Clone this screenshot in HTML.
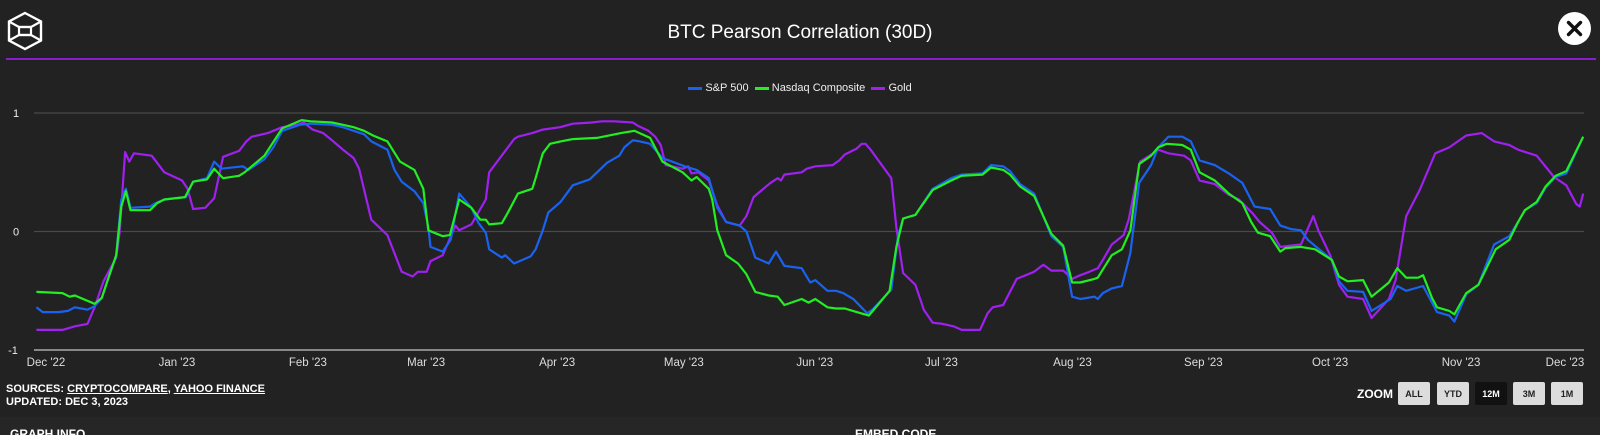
<!DOCTYPE html>
<html><head><meta charset="utf-8">
<style>
html,body{margin:0;padding:0;background:#222222;width:1600px;height:435px;overflow:hidden;font-family:"Liberation Sans",sans-serif;color:#fff}
#wrap{position:relative;width:1600px;height:435px}
.abs{position:absolute}
.btn{position:absolute;top:382px;width:32px;height:23px;background:#dcdcdc;color:#222;font:bold 9px "Liberation Sans Narrow","Liberation Sans",sans-serif;display:flex;align-items:center;justify-content:center;border-radius:2px}
.btn.on{background:#111;color:#fff}
.narrow{font-family:"Liberation Sans Narrow","Liberation Sans",sans-serif;font-weight:bold}
</style></head><body>
<div id="wrap">
<svg class="abs" style="left:6px;top:11px" width="38" height="40" viewBox="0 0 38 40">
<polygon points="19,2 35,10.5 35,29.5 19,38 3,29.5 3,10.5" fill="none" stroke="#fff" stroke-width="2.4"/>
<polyline points="3,10.5 13,16 25,16 35,10.5" fill="none" stroke="#fff" stroke-width="2.2"/>
<polyline points="3,29.5 13,24 25,24 35,29.5" fill="none" stroke="#fff" stroke-width="2.2"/>
<rect x="13" y="16" width="12" height="8" fill="none" stroke="#fff" stroke-width="2.2"/>
</svg>
<div class="abs" style="left:0;width:1600px;top:22px;text-align:center;font-size:19px">BTC Pearson Correlation (30D)</div>
<div class="abs" style="left:1558px;top:12px;width:33px;height:33px;border-radius:50%;background:#fff">
<svg width="33" height="33"><path d="M10.5,10.5 L22.5,22.5 M22.5,10.5 L10.5,22.5" stroke="#111" stroke-width="3.4" stroke-linecap="round"/></svg></div>
<div class="abs" style="left:6px;top:58px;width:1590px;height:2px;background:#8a1ccc"></div>

<div class="abs" style="left:0;width:1600px;top:82px;text-align:center;font-size:11px;color:#eee">
<span><span style="display:inline-block;width:14px;height:3px;background:#1a63f0;vertical-align:middle"></span> S&amp;P 500</span>&nbsp;
<span><span style="display:inline-block;width:14px;height:3px;background:#22ee22;vertical-align:middle"></span> Nasdaq Composite</span>&nbsp;
<span><span style="display:inline-block;width:14px;height:3px;background:#a020f0;vertical-align:middle"></span> Gold</span>
</div>

<svg id="chart" class="abs" style="left:0;top:0" width="1600" height="380"></svg>

<div class="abs narrow" style="left:6px;top:383px;font-size:11px;line-height:13px">SOURCES: <u>CRYPTOCOMPARE</u>, <u>YAHOO FINANCE</u><br><span>UPDATED: DEC 3, 2023</span></div>
<div class="abs narrow" style="left:1357px;top:387px;font-size:12px">ZOOM</div>
<div class="btn" style="left:1398px">ALL</div>
<div class="btn" style="left:1437px">YTD</div>
<div class="btn on" style="left:1475px">12M</div>
<div class="btn" style="left:1513px">3M</div>
<div class="btn" style="left:1551px">1M</div>
<div class="abs" style="left:0;top:417px;width:1600px;height:18px;background:#262626">
<div class="abs narrow" style="left:10px;top:10px;font-size:12px">GRAPH INFO</div>
<div class="abs narrow" style="left:855px;top:10px;font-size:12px">EMBED CODE</div>
</div>
</div>
<script>
// days since Dec 1, 2022
const monthLabels=["Dec '22","Jan '23","Feb '23","Mar '23","Apr '23","May '23","Jun '23","Jul '23","Aug '23","Sep '23","Oct '23","Nov '23","Dec '23"];
const monthDays=[0,31,62,90,121,151,182,212,243,274,304,335,365];
const yTicks=[1,0,-1];
const spDays=[-1.1,0.4,4.2,6.4,8,11,12.7,14.4,15.7,17.8,19,20.1,21.2,25.8,27.1,29.2,34.3,36,39.3,41,42.7,47.8,49.1,52.9,55,57.1,61.3,63.8,68.9,71.5,74,76.5,78.2,82,83.7,85.4,88.4,90.5,91.7,92.2,95.1,97,99,101.9,103.6,105.3,106.1,109.1,109.9,112,115.9,117.1,118.8,120.1,123,125.9,129.9,134,136.9,138.1,140.1,141.8,144.2,147.1,152.4,155.2,158.1,160.1,162.2,165.4,167,169.1,172.3,174,176,180.1,182.1,183.3,186.2,188.2,189.9,192.3,195.6,196.8,201.3,202.9,204.1,207,211.1,215.5,218,222.9,224.9,227.8,229.4,231.8,235.1,239.2,242,244.1,246.1,249.4,250.2,251.4,253.5,255.9,257.9,260,262.8,264.5,266.9,270.2,272.2,274.3,277.9,281.2,284.4,287.3,291,293.4,295.9,298.3,299.9,305.6,307.3,309.3,313,315,319.5,321.1,323.2,327.2,329.3,330.5,333.4,334.6,337.4,340.3,344,347.6,349.7,351.3,354.1,356.2,358.6,361.1,365.1];
const spVals=[-0.64,-0.68,-0.68,-0.67,-0.64,-0.66,-0.63,-0.56,-0.42,-0.2,0.27,0.36,0.2,0.21,0.24,0.27,0.29,0.42,0.45,0.59,0.53,0.55,0.52,0.61,0.71,0.85,0.9,0.91,0.9,0.88,0.85,0.82,0.76,0.69,0.52,0.42,0.34,0.24,0.04,-0.13,-0.17,-0.07,0.32,0.2,0.07,-0.01,-0.15,-0.22,-0.2,-0.27,-0.21,-0.15,0.01,0.16,0.25,0.39,0.44,0.58,0.64,0.71,0.77,0.76,0.74,0.62,0.55,0.52,0.45,0.2,0.08,0.05,0,-0.22,-0.27,-0.17,-0.29,-0.31,-0.43,-0.41,-0.5,-0.5,-0.52,-0.57,-0.69,-0.66,-0.49,-0.04,0.11,0.14,0.36,0.45,0.48,0.49,0.56,0.55,0.51,0.4,0.32,-0.04,-0.13,-0.55,-0.57,-0.55,-0.57,-0.52,-0.48,-0.46,-0.18,0.41,0.56,0.71,0.8,0.8,0.76,0.6,0.56,0.49,0.41,0.21,0.19,0.05,0.02,0.01,-0.07,-0.24,-0.42,-0.5,-0.51,-0.67,-0.57,-0.46,-0.5,-0.46,-0.6,-0.68,-0.71,-0.76,-0.53,-0.45,-0.11,-0.04,0.08,0.18,0.24,0.37,0.46,0.49,0.8];
const ndDays=[-1.1,5.1,6.8,8,12.7,14.4,15.7,17.8,19,20.1,21.2,25.8,27.5,29.2,34.1,36,39.3,41,43.1,46.9,48.2,52.9,57.1,61.7,63.8,68.9,71.5,74,76.5,78.6,82,85,88.4,90.5,91.7,95.1,96.8,99,101.9,104,105.3,106.1,109.1,110.4,112.9,116.3,117.1,118.8,120.5,123,125.9,131.6,137.3,140.5,144.2,147.1,151.9,154,155.2,158.1,158.9,160.1,162.2,165,167,169.1,172.3,174.4,176,180.1,181.7,183.3,186.2,188.2,190.3,193.1,196,200.9,202.5,204.1,207,211.1,215.5,218,222.9,224.9,227.8,229.4,231.8,235.1,239.2,242,244.1,246,249.4,250.2,251.4,253.5,255.9,257.9,260,262.8,264.5,266.5,270.2,272.2,274.3,277.9,281.2,284.4,286.5,288.1,291,293.4,294.6,298.3,301.6,305.6,307.3,309.3,313,315,319.1,321.1,323.2,326,327.2,329.3,330.5,333.4,334.6,337.4,340.3,344.4,347.6,349.7,351.3,354.1,356.2,358.6,361.1,365.1];
const ndVals=[-0.51,-0.52,-0.55,-0.54,-0.61,-0.56,-0.42,-0.2,0.21,0.34,0.18,0.18,0.24,0.27,0.29,0.42,0.44,0.53,0.45,0.47,0.5,0.64,0.87,0.94,0.93,0.92,0.9,0.88,0.85,0.81,0.76,0.59,0.52,0.36,0.01,-0.04,-0.03,0.27,0.2,0.1,0.1,0.06,0.07,0.15,0.32,0.36,0.45,0.66,0.74,0.76,0.78,0.79,0.83,0.85,0.79,0.59,0.5,0.43,0.46,0.36,0.27,0.01,-0.2,-0.27,-0.36,-0.51,-0.54,-0.55,-0.62,-0.57,-0.6,-0.57,-0.64,-0.65,-0.65,-0.68,-0.71,-0.5,-0.13,0.11,0.14,0.35,0.43,0.47,0.48,0.54,0.52,0.48,0.38,0.3,-0.02,-0.12,-0.43,-0.43,-0.4,-0.39,-0.32,-0.2,-0.15,0.01,0.57,0.64,0.71,0.74,0.73,0.69,0.5,0.43,0.32,0.24,0.08,-0.01,-0.04,-0.17,-0.14,-0.13,-0.15,-0.24,-0.38,-0.42,-0.41,-0.55,-0.43,-0.31,-0.39,-0.39,-0.37,-0.56,-0.64,-0.67,-0.7,-0.52,-0.45,-0.15,-0.07,0.08,0.18,0.25,0.38,0.47,0.51,0.8];
const goldDays=[-1.1,5.1,8,11,12.7,14.8,17.8,18.6,19.9,20.9,22,26.2,29.2,33.4,34.7,36,38.9,41,43.1,46.9,48.6,49.9,53.7,55,57.1,60.5,62.2,64.3,66.8,68.9,71.5,74,75.3,78.2,82,85.4,88,89.2,91.3,92.2,95.1,98.1,99,101.9,105.3,106.1,112,112.9,116.3,118.8,122.9,125.9,130.4,132.8,135.7,140.1,141.4,143.8,145.4,146.7,147.9,151.9,153.2,154,155.6,158.1,160.1,162.2,165.4,167,168.7,170.7,172.7,174.4,175.2,176,180.1,181.3,183.3,187.4,189,190.3,193.1,194.3,195.2,196.4,201.3,202.5,204.1,207,209,211.1,213.5,216,218,222.3,224.1,225.3,227.8,231,235.1,237.3,239.2,242,244.1,246,248.2,250.2,251.4,253.5,256.3,257.5,260.2,263.3,264.5,266.9,270.6,272.2,274.3,277.9,281.2,283.6,286.9,288.5,291.4,293.4,298.3,301.2,302.4,305.2,307.3,309.3,313,315,319.1,320.7,323.2,326.4,330.1,333.4,337.4,341.1,344,347.6,349.7,354.1,358.2,361.1,363.5,364.3,365.1];
const goldVals=[-0.83,-0.83,-0.8,-0.78,-0.64,-0.42,-0.22,-0.01,0.67,0.59,0.66,0.64,0.5,0.43,0.36,0.19,0.2,0.28,0.63,0.68,0.76,0.8,0.83,0.85,0.88,0.9,0.92,0.86,0.83,0.77,0.69,0.62,0.53,0.1,-0.03,-0.34,-0.38,-0.34,-0.34,-0.25,-0.2,0.05,0.01,0.06,0.27,0.5,0.78,0.8,0.83,0.86,0.88,0.91,0.92,0.93,0.93,0.92,0.89,0.85,0.8,0.73,0.56,0.53,0.55,0.49,0.5,0.43,0.22,0.08,0.05,0.13,0.29,0.35,0.41,0.45,0.43,0.48,0.5,0.53,0.55,0.56,0.6,0.65,0.7,0.74,0.74,0.69,0.45,0.03,-0.35,-0.45,-0.66,-0.77,-0.78,-0.8,-0.83,-0.83,-0.69,-0.64,-0.62,-0.4,-0.34,-0.28,-0.33,-0.33,-0.4,-0.37,-0.34,-0.31,-0.24,-0.11,-0.03,0.1,0.59,0.66,0.69,0.66,0.64,0.6,0.43,0.4,0.31,0.27,0.15,0.08,-0.01,-0.13,-0.11,0.13,0.01,-0.2,-0.45,-0.55,-0.57,-0.73,-0.57,-0.41,0.13,0.35,0.66,0.71,0.81,0.83,0.76,0.73,0.69,0.64,0.46,0.39,0.23,0.21,0.32];

const NS='http://www.w3.org/2000/svg';
const svg=document.getElementById('chart');
const X0=41,PXD=4.224,GL=34,GR=1584;
const xs=d=>X0+d*PXD;
const ys=v=>231.5-v*118.5;
function mk(tag,attrs,parent){const e=document.createElementNS(NS,tag);for(const k in attrs)e.setAttribute(k,attrs[k]);(parent||svg).appendChild(e);return e;}
yTicks.forEach(t=>{
  const ln=mk('line',{x1:GL,x2:GR,y1:ys(t),y2:ys(t),stroke:t===-1?'#aaaaaa':'#4a4a4a','stroke-width':t===-1?1.6:1.2});
  
  
  const tx=mk('text',{x:t===-1?13:16,y:ys(t)+4,fill:'#eeeeee','font-size':11,'font-family':'Liberation Sans, sans-serif','text-anchor':'middle'});
  tx.textContent=String(t);
  
  
});
monthLabels.forEach((m,i)=>{
  let x=xs(monthDays[i])+5;
  if(x>1565)x=1565;
  const tx=mk('text',{x:x,y:366,fill:'#dddddd','font-size':11.5,'font-family':'Liberation Sans Narrow, Liberation Sans, sans-serif','text-anchor':'middle'});
  tx.textContent=m;
  
  
});
function series(days,vals,color,name){
  const pts=days.map((d,i)=>xs(d).toFixed(1)+','+ys(vals[i]).toFixed(1)).join(' ');
  const p=mk('polyline',{points:pts,fill:'none',stroke:color,'stroke-width':2.2,'stroke-linejoin':'round'});
  
  
}
series(goldDays,goldVals,'#a020f0','gold-line');
series(spDays,spVals,'#1a63f0','sp500-line');
series(ndDays,ndVals,'#22ee22','nasdaq-line');
</script>
</body></html>
